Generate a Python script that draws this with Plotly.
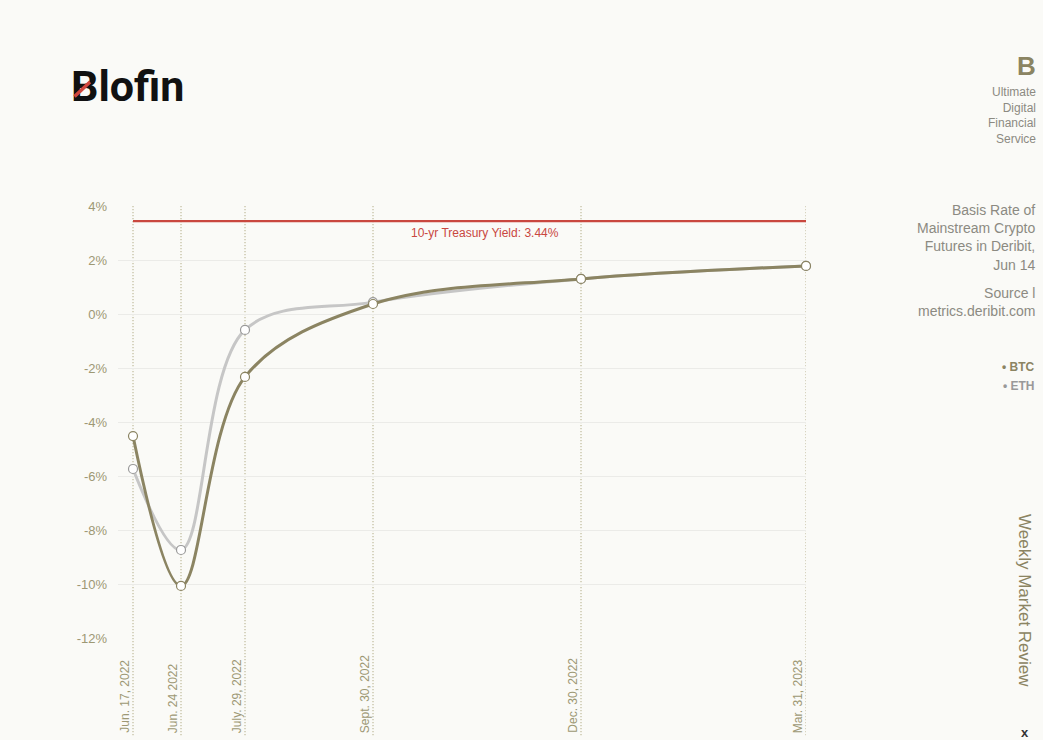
import plotly.graph_objects as go

# Basis rate of crypto futures on Deribit (Jun 14), per expiry
expiries = ["Jun. 17, 2022", "Jun. 24 2022", "July. 29, 2022",
            "Sept. 30, 2022", "Dec. 30, 2022", "Mar. 31, 2023"]
btc_basis = [-4.52, -10.07, -2.33, 0.37, 1.30, 1.78]
eth_basis = [-5.74, -8.74, -0.59, 0.44, 1.30, 1.78]
treasury_yield = 3.44
y_ticks = [4, 2, 0, -2, -4, -6, -8, -10, -12]

# horizontal placement of each expiry on the chart (uneven spacing as in source)
x_pos = [15, 63, 127, 255, 463, 688]

OLIVE = "#8b8462"
LABEL = "#9d9874"
GRAY_TXT = "#8c8a82"
RED = "#c9473f"
BG = "#fafaf7"

W, H = 1043, 740
L, R, T, B = 118, 237, 206, 102
pw, ph = W - L - R, H - T - B

fig = go.Figure()

# treasury yield reference line
fig.add_trace(go.Scatter(
    x=[x_pos[0], x_pos[-1]], y=[treasury_yield, treasury_yield],
    mode="lines", line=dict(color=RED, width=2.2), hoverinfo="skip",
    showlegend=False))

fig.add_trace(go.Scatter(
    x=x_pos, y=eth_basis, mode="lines+markers", name="ETH",
    line=dict(color="#c6c6c6", width=3, shape="spline", smoothing=1.0),
    marker=dict(size=9, color="white", line=dict(color="#9a9a9a", width=1.2)),
    cliponaxis=False, showlegend=False))

fig.add_trace(go.Scatter(
    x=x_pos, y=btc_basis, mode="lines+markers", name="BTC",
    line=dict(color=OLIVE, width=3, shape="spline", smoothing=1.0),
    marker=dict(size=9, color="white", line=dict(color=OLIVE, width=1.2)),
    cliponaxis=False, showlegend=False))

# dotted vertical guides running down into the label area
label_bottom = -0.225
for xp, lab in zip(x_pos, expiries):
    fig.add_shape(type="line", xref="x", yref="paper", x0=xp, x1=xp,
                  y0=label_bottom, y1=1,
                  line=dict(color="#a39c70", width=1, dash="1px,2px"), layer="below")
    fig.add_annotation(x=xp, y=label_bottom, xref="x", yref="paper",
                       text=lab, textangle=-90, showarrow=False,
                       xanchor="right", yanchor="bottom", xshift=1,
                       font=dict(size=12, color=LABEL))

fig.add_annotation(x=(x_pos[0] + x_pos[-1]) / 2 + 15, y=treasury_yield,
                   xref="x", yref="y", yshift=-12,
                   text=f"10-yr Treasury Yield: {treasury_yield:.2f}%",
                   showarrow=False, font=dict(size=12, color=RED))


def px(xpix, ypix):
    return (xpix - L) / pw, (H - B - ypix) / ph


def add_text(text, xpix, ypix, size, color, xanchor="right", yanchor="middle",
             family=None, angle=0, align="right"):
    x, y = px(xpix, ypix)
    f = dict(size=size, color=color)
    if family:
        f["family"] = family
    fig.add_annotation(x=x, y=y, xref="paper", yref="paper", text=text,
                       showarrow=False, xanchor=xanchor, yanchor=yanchor,
                       textangle=angle, align=align, font=f)


# logo
add_text("<b>Blofin</b>", 69, 86, 43, "#111111", xanchor="left",
         family="Liberation Sans Narrow, Roboto, sans-serif")
# red slash over the B (arrow line drawn above the text)
sx, sy = px(90, 82)
fig.add_annotation(x=sx, y=sy, xref="paper", yref="paper", text="",
                   showarrow=True, arrowhead=0, arrowwidth=3.5,
                   arrowcolor="#d0463c", ax=-17, ay=16)

add_text("<b>B</b>", 1038, 66, 26, OLIVE)
add_text("Ultimate<br>Digital<br>Financial<br>Service", 1038, 115, 12, GRAY_TXT)
add_text("Basis Rate of<br>Mainstream Crypto<br>Futures in Deribit,<br>Jun 14",
         1037, 237, 14, GRAY_TXT)
add_text("Source l<br>metrics.deribit.com", 1037, 302, 14, GRAY_TXT)
add_text("<b>• BTC</b>", 1037, 367, 12, OLIVE)
add_text("<b>• ETH</b>", 1037, 386, 12, "#999999")
add_text("Weekly Market Review", 1025, 600, 17, OLIVE, xanchor="center", angle=90)
add_text("<b>x</b>", 1025, 732, 13, "#333333", xanchor="center")

fig.update_layout(
    width=W, height=H,
    paper_bgcolor=BG, plot_bgcolor=BG,
    margin=dict(l=L, r=R, t=T, b=B),
    font=dict(family="Liberation Sans, Arial, sans-serif"),
    xaxis=dict(range=[0, 688], showgrid=False, zeroline=False,
               showticklabels=False, showline=False),
    yaxis=dict(range=[-12, 4], tickvals=y_ticks,
               ticktext=[f"{v}%" for v in y_ticks],
               showgrid=True, gridcolor="#ebebe8", gridwidth=1,
               zeroline=False, showline=False, ticks="",
               ticklabelstandoff=10,
               tickfont=dict(size=13, color=LABEL)),
    showlegend=False,
)

fig.write_html("out.html", config={"displayModeBar": False},
               post_script="document.body.style.margin='0';")
